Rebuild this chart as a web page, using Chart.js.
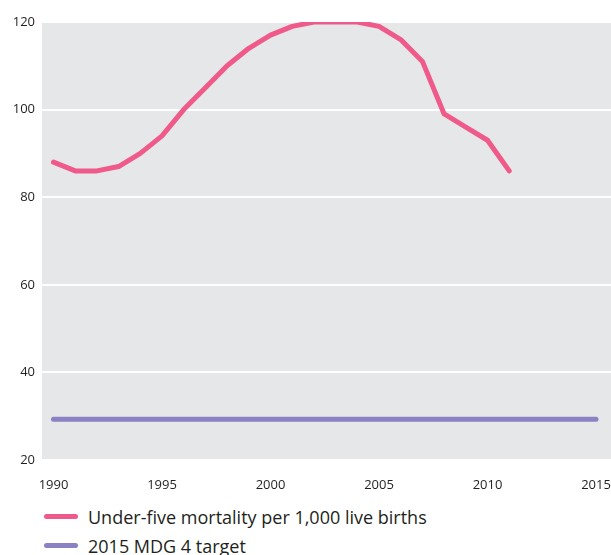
<!DOCTYPE html>
<html>
<head>
<meta charset="utf-8">
<script src="https://cdn.jsdelivr.net/npm/chart.js@4"></script>
<style>
    html, body { margin: 0; background: #fff; font-family: "Open Sans", sans-serif; overflow: hidden; }
    #wrap { position: relative; width: 611px; height: 495px; }
    #legend { position: absolute; left: 44px; top: 502px; color: #231f20; font-size: 18px; }
    .item { display: flex; align-items: center; height: 29px; }
    .swatch { width: 34px; height: 5px; border-radius: 3px; margin-right: 10px; }
</style>
</head>
<body>
<div id="wrap"><canvas id="chart"></canvas></div>
<div id="legend"></div>
<script>
// under-five mortality per 1,000 live births
const years = [1990, 1991, 1992, 1993, 1994, 1995, 1996, 1997, 1998, 1999, 2000,
    2001, 2002, 2003, 2004, 2005, 2006, 2007, 2008, 2009, 2010, 2011];
const mortality = [88, 86, 86, 87, 90, 94, 100, 105, 110, 114, 117,
    119, 120, 120, 120, 119, 116, 111, 99, 96, 93, 86];

const targetYears = [1990, 2015];
const targetValues = [29.3, 29.3];

const xTicks = [1990, 1995, 2000, 2005, 2010, 2015];
const yTicks = [20, 40, 60, 80, 100, 120];

const seriesNames = ['Under-five mortality per 1,000 live births', '2015 MDG 4 target'];
const seriesColors = ['#ef5a8a', '#8a82c2'];

const textColor = '#231f20';

// grey plot background
const plotBg = {
    id: 'plotBg',
    beforeDraw(chart) {
        const { ctx, chartArea: a } = chart;
        ctx.save();
        ctx.fillStyle = '#e6e7e9';
        ctx.fillRect(a.left, a.top, a.right - a.left, a.bottom - a.top);
        ctx.restore();
    }
};

const ctx = document.getElementById('chart').getContext('2d');
new Chart(ctx, {
    type: 'line',
    data: {
        datasets: [{
            label: seriesNames[0],
            data: years.map((y, i) => ({ x: y, y: mortality[i] })),
            borderColor: seriesColors[0],
            borderWidth: 5,
            pointRadius: 0,
            borderCapStyle: 'round',
            borderJoinStyle: 'round',
            tension: 0
        }, {
            label: seriesNames[1],
            data: targetYears.map((y, i) => ({ x: y, y: targetValues[i] })),
            borderColor: seriesColors[1],
            borderWidth: 5,
            pointRadius: 0,
            borderCapStyle: 'round',
            tension: 0
        }]
    },
    options: {
        responsive: true,
        maintainAspectRatio: false,
        animation: false,
        layout: { padding: { top: 22, right: 0, left: 0, bottom: 0 } },
        plugins: {
            legend: { display: false },
            tooltip: { enabled: false }
        },
        scales: {
            x: {
                type: 'linear',
                min: 1989.47,
                max: 2015.69,
                afterBuildTicks: s => { s.ticks = xTicks.map(v => ({ value: v })); },
                afterFit: s => { s.height = 35; s.paddingLeft = 0; s.paddingRight = 0; },
                ticks: {
                    color: textColor,
                    font: { family: 'Open Sans', size: 13 },
                    padding: 9,
                    maxRotation: 0,
                    callback: v => String(v)
                },
                grid: { display: false },
                border: { display: false }
            },
            y: {
                min: 20,
                max: 120,
                afterBuildTicks: s => { s.ticks = yTicks.map(v => ({ value: v })); },
                afterFit: s => { s.width = 42; },
                ticks: {
                    color: textColor,
                    font: { family: 'Open Sans', size: 13 },
                    padding: 7
                },
                grid: { color: '#ffffff', lineWidth: 2, drawTicks: false },
                border: { display: false }
            }
        }
    },
    plugins: [plotBg]
});

// legend below the chart
const legend = document.getElementById('legend');
seriesNames.forEach((name, i) => {
    const row = document.createElement('div');
    row.className = 'item';
    const sw = document.createElement('span');
    sw.className = 'swatch';
    sw.style.background = seriesColors[i];
    const txt = document.createElement('span');
    txt.textContent = name;
    row.appendChild(sw);
    row.appendChild(txt);
    legend.appendChild(row);
});
</script>
</body>
</html>
